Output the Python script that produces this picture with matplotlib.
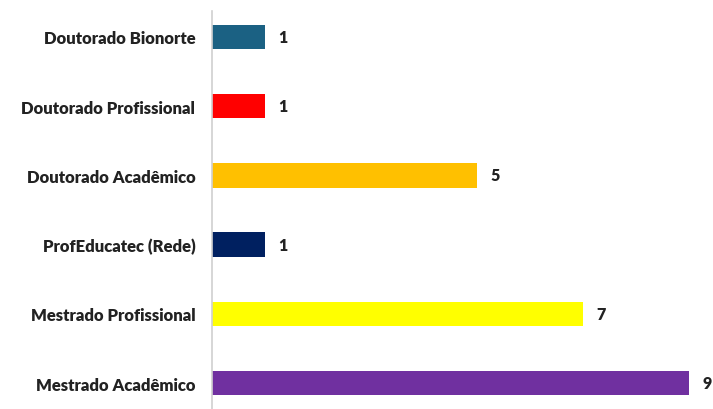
import matplotlib.pyplot as plt

cursos = ['Mestrado Acadêmico', 'Mestrado Profissional', 'ProfEducatec (Rede)',
          'Doutorado Acadêmico', 'Doutorado Profissional', 'Doutorado Bionorte']
qtd = [9, 7, 1, 5, 1, 1]
cores = ['#7030A0', '#FFFF00', '#002060', '#FFC000', '#FF0000', '#1B6183']

plt.rcParams['font.family'] = ['Lato', 'DejaVu Sans']

fig = plt.figure(figsize=(7.13, 4.10), dpi=100)
ax = fig.add_axes([212 / 713, 0, 1 - 212 / 713, 1 - 12 / 410])

pos = range(len(cursos))
ax.barh(pos, qtd, height=0.35, color=cores)
for i, v in enumerate(qtd):
    ax.annotate(str(v), (v, i), xytext=(9.5, 0), textcoords='offset points',
                va='center', ha='left', fontsize=11.5, fontweight='heavy', color='#222222')

ax.set_xlim(0, (713 - 212) / 53)
ax.set_ylim(-0.375, 5.375)
ax.set_yticks(list(pos))
ax.set_yticklabels(cursos, fontsize=12, fontweight='heavy', color='#222222')
ax.tick_params(axis='y', length=0, pad=12)
ax.set_xticks([])
for s in ['top', 'right', 'bottom']:
    ax.spines[s].set_visible(False)
ax.spines['left'].set_color('#D0D0D0')
ax.spines['left'].set_linewidth(1.2)

fig.savefig('out.png', dpi=100)
